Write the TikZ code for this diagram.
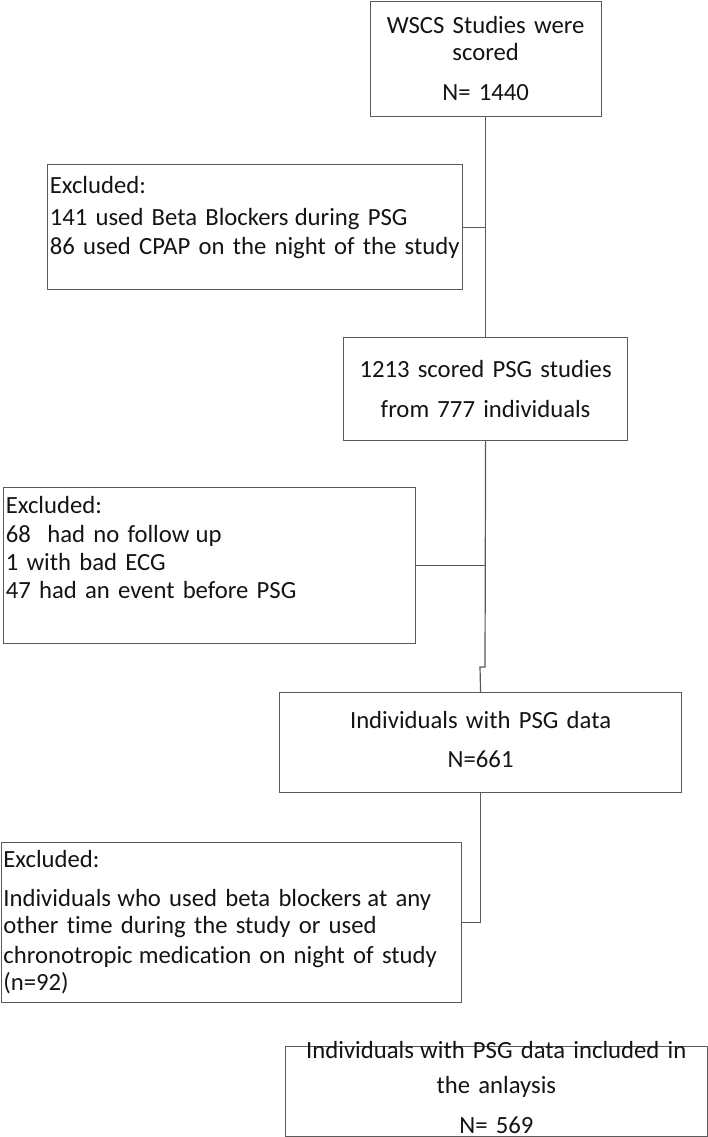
\documentclass[tikz,border=0pt]{standalone}
\usepackage{fontspec}
\setmainfont[Ligatures=NoCommon]{Carlito}
\definecolor{linegray}{RGB}{90,90,90}
\definecolor{txt}{RGB}{20,20,20}
\begin{document}
\begin{tikzpicture}[x=1pt,y=-1pt,
  box/.style={draw=linegray, line width=1.2pt, rectangle, inner ysep=0pt,
    anchor=north west, text=txt, font=\fontsize{24.7}{28.5}\selectfont},
  cbox/.style={box, align=center, inner xsep=0pt},
  lbox/.style={box, align=left, inner xsep=2.2pt},
  conn/.style={draw=linegray, line width=1.2pt}]
\useasboundingbox (0,0) rectangle (708,1137);
\fill[white] (0,0) rectangle (708,1137);

\node[cbox, text width=231pt, text height=32pt, text depth=83pt] (b1) at (369.5,1)
  {WSCS Studies were\\[-1.5pt] scored\\[11.5pt] N= 1440};
\node[lbox, text width=410.6pt, text height=29pt, text depth=96pt] (e1) at (47,164)
  {Excluded:\\[3.5pt] \mbox{141 used Beta Blockers\hspace{-2pt} during PSG}\\[0.5pt] \mbox{86 used CPAP on the night of the study}};
\node[cbox, text width=284pt, text height=40pt, text depth=63pt] (b2) at (343,337)
  {1213 scored PSG studies\\[11.5pt] from 777 individuals};
\node[lbox, text width=407.6pt, text height=26pt, text depth=130pt] (e2) at (3,487)
  {Excluded:\\[0.5pt] 68\ \ had no follow\hspace{-2pt} up\\[-0.5pt] 1 with bad ECG\\[-0.5pt] 47 had an event before PSG};
\node[cbox, text width=402pt, text height=36pt, text depth=64pt] (b3) at (279,692)
  {Individuals with PSG data\\[10.5pt] N=661};
\node[lbox, text width=456pt, text height=25pt, text depth=134.5pt] (e3) at (0.6,842)
  {Excluded:\\[10.5pt] \mbox{Individuals\hspace{-2pt} who used beta blockers\hspace{-2pt} at any}\\[-1.5pt] other time during the study or used\\[1.5pt] \mbox{chronotropic\hspace{-2pt} medication on night of study}\\[-1.5pt] (n=92)};
\node[cbox, text width=421.5pt, text height=12.5pt, text depth=78pt] (b4) at (285,1045.5)
  {Individuals\hspace{-2pt} with PSG data included in\\[6.5pt] the anlaysis\\[11.5pt] N= 569};

\coordinate (j1) at (485,667);
\coordinate (j2) at (480,667);
\draw[conn] (b1.south) -- (b2.north);
\draw[conn] (e1.east) -- (e1.east -| b1.south);
\draw[conn] (b2.south) -- (j1) -- (j2) -- (b3.north);
\draw[conn] (e2.east) -- (e2.east -| b2.south);
\draw[conn] (b3.south) |- (e3.east);
\end{tikzpicture}
\end{document}
